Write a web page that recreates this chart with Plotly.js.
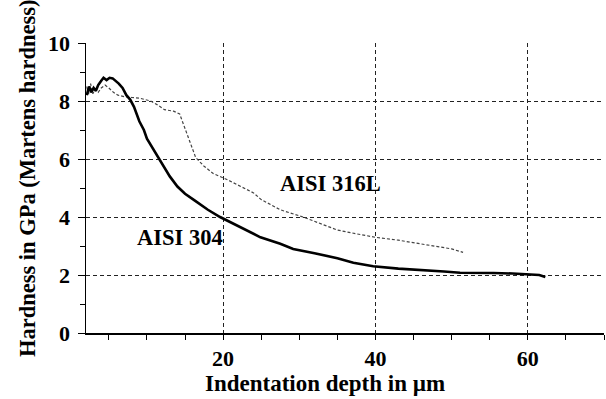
<!DOCTYPE html>
<html>
<head>
<meta charset="utf-8">
<script src="https://cdn.plot.ly/plotly-3.0.1.min.js"></script>
<style>html,body{margin:0;padding:0;background:#fff;}#chart{width:606px;height:399px;}</style>
</head>
<body>
<div id="chart"></div>
<script>
// AISI 304 (solid)
const depth304 = [2.1,2.4,2.7,3.0,3.3,3.6,4.0,4.3,4.7,5.1,5.5,5.9,6.3,6.8,7.3,7.8,8.3,9.0,9.6,10.0,11.0,12.0,13.0,14.0,15.0,16.2,18.0,19.6,21.5,23.2,24.9,27.5,29.2,32.0,35.0,37.1,39.7,43.0,46.8,49.0,51.1,53.0,55.5,58.0,60.0,61.5,62.3];
const hard304  = [8.2,8.5,8.3,8.45,8.35,8.55,8.7,8.8,8.72,8.8,8.78,8.7,8.6,8.45,8.2,8.05,7.8,7.3,7.0,6.7,6.25,5.85,5.4,5.05,4.8,4.58,4.25,4.0,3.75,3.55,3.3,3.08,2.9,2.75,2.58,2.42,2.3,2.22,2.17,2.12,2.08,2.08,2.07,2.05,2.03,2.0,1.93];
// AISI 316L (dotted)
const depth316 = [2.1,2.3,2.6,2.9,3.2,3.6,4.0,4.5,5.0,5.6,6.2,7.0,8.0,9.0,10.5,11.5,12.3,13.5,14.3,14.8,15.3,15.9,16.4,17.5,18.7,20.6,22.0,24.0,25.0,27.5,30.5,33.0,35.0,37.5,40.0,43.0,45.5,48.0,50.0,51.5];
const hard316  = [8.5,8.2,8.6,8.25,8.4,8.3,8.45,8.55,8.45,8.3,8.2,8.15,8.12,8.1,8.0,7.85,7.7,7.65,7.55,7.2,6.8,6.4,6.05,5.75,5.5,5.28,5.1,4.83,4.6,4.25,4.0,3.75,3.55,3.42,3.3,3.2,3.1,2.98,2.9,2.78];
const xTickVals = [20, 40, 60];
const xTickText = ["20", "40", "60"];
const yTickVals = [0, 2, 4, 6, 8, 10];
const yTickText = ["0", "2", "4", "6", "8", "10"];
const labelNames = ["AISI 316L","AISI 304"];
const labelX = [34.1, 14.4];
const labelY = [5.17, 3.31];
const xTitle = "Indentation depth in µm";
const yTitle = "Hardness in GPa (Martens hardness)";

const serif = "Liberation Serif, Times New Roman, serif";
const bold = s => "<b>" + s + "</b>";
const traces = [
  {x: depth316, y: hard316, mode: "lines", name: "AISI 316L",
   line: {color: "#444", width: 1.2, dash: "3px,2px"}},
  {x: depth304, y: hard304, mode: "lines", name: "AISI 304",
   line: {color: "#000", width: 2.6}}
];
const annots = labelNames.map((t, i) => ({
  x: labelX[i], y: labelY[i], xref: "x", yref: "y", text: bold(t), showarrow: false,
  font: {family: serif, size: 22.5, color: "#000"}
}));
annots.push({
  x: 0.462, y: -0.175, xref: "paper", yref: "paper", text: bold(xTitle), showarrow: false,
  xanchor: "center", yanchor: "middle",
  font: {family: serif, size: 23, color: "#000"}
});
annots.push({
  x: -0.114, y: 0.534, xref: "paper", yref: "paper", text: bold(yTitle), showarrow: false,
  xanchor: "center", yanchor: "middle", textangle: -90,
  font: {family: serif, size: 22.5, color: "#000"}
});
const layout = {
  width: 606, height: 399,
  margin: {l: 86, r: 2, t: 43, b: 66},
  paper_bgcolor: "#fff", plot_bgcolor: "#fff",
  showlegend: false,
  font: {family: serif, color: "#000", size: 20},
  xaxis: {
    range: [2, 70], tickmode: "array", tickvals: xTickVals, ticktext: xTickText.map(bold),
    showline: true, linecolor: "#000", linewidth: 1.5,
    ticks: "outside", ticklen: 5, tickcolor: "#000",
    showgrid: true, gridcolor: "#222", griddash: "4px,3px", gridwidth: 1,
    zeroline: false,
    tickfont: {family: serif, size: 22},
    minor: {dtick: 5, tick0: 0, ticks: "outside", ticklen: 5, tickcolor: "#000", showgrid: false},
  },
  yaxis: {
    range: [0, 10], tickmode: "array", tickvals: yTickVals, ticktext: yTickText.map(bold),
    showline: true, linecolor: "#000", linewidth: 1.5,
    ticks: "outside", ticklen: 7, tickcolor: "#000",
    showgrid: true, gridcolor: "#222", griddash: "4px,3px", gridwidth: 1,
    zeroline: false,
    ticklabelstandoff: 3,
    tickfont: {family: serif, size: 22},
    minor: {dtick: 1, tick0: 0, ticks: "outside", ticklen: 5, tickcolor: "#000", showgrid: false},
  },
  annotations: annots
};
Plotly.newPlot("chart", traces, layout, {displayModeBar: false, staticPlot: true});
</script>
</body>
</html>
